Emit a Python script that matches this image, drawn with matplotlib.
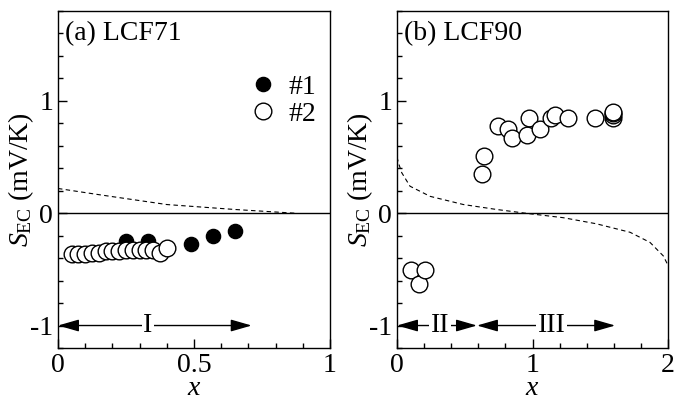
import matplotlib
matplotlib.use("Agg")
import matplotlib.pyplot as plt
from matplotlib import ticker

plt.rcParams['font.family'] = ['Liberation Serif', 'DejaVu Serif']
plt.rcParams['mathtext.fontset'] = 'custom'
plt.rcParams['mathtext.rm'] = 'Liberation Serif'
plt.rcParams['mathtext.it'] = 'Liberation Serif:italic'

# (a) LCF71
a_s1_x = [0.25, 0.33, 0.49, 0.57, 0.65]
a_s1_y = [-0.25, -0.25, -0.27, -0.20, -0.16]
a_s2_x = [0.05, 0.075, 0.10, 0.125, 0.15, 0.175, 0.20, 0.225, 0.25,
          0.275, 0.30, 0.325, 0.35, 0.375, 0.40]
a_s2_y = [-0.36, -0.36, -0.36, -0.35, -0.35, -0.34, -0.34, -0.34, -0.33,
          -0.33, -0.33, -0.33, -0.33, -0.35, -0.31]
a_dash_x = [0.0, 0.15, 0.4, 0.65, 0.87]
a_dash_y = [0.22, 0.165, 0.077, 0.033, 0.0]

# (b) LCF90
b_s2_x = [0.10, 0.16, 0.21, 0.63, 0.645, 0.748, 0.82, 0.846, 0.957, 0.977,
          1.055, 1.14, 1.166, 1.265, 1.46, 1.597, 1.597, 1.597, 1.597]
b_s2_y = [-0.51, -0.63, -0.51, 0.35, 0.51, 0.776, 0.747, 0.673, 0.696, 0.844,
          0.75, 0.844, 0.873, 0.844, 0.844, 0.844, 0.87, 0.89, 0.90]
b_dash_x = [0.0, 0.01, 0.035, 0.096, 0.244, 0.49, 0.735, 0.98, 1.226, 1.47,
            1.72, 1.867, 1.965, 1.99, 2.0]
b_dash_y = [0.50, 0.45, 0.36, 0.24, 0.15, 0.077, 0.033, -0.005, -0.04, -0.094,
            -0.17, -0.26, -0.38, -0.44, -0.47]

# region arrows: (start, end, label, label position)
a_regions = [(0.0, 0.712, "I", 0.33)]
b_regions = [(0.0, 0.59, "II", 0.317), (0.59, 1.61, "III", 1.14)]

FS = 20
MS = 12


def style_axes(ax, xmax, xminor):
    ax.set_xlim(0, xmax)
    ax.set_ylim(-1.2, 1.8)
    ax.axhline(0, color='black', lw=1)
    ax.yaxis.set_major_locator(ticker.FixedLocator([-1, 0, 1]))
    ax.yaxis.set_major_formatter(ticker.FixedFormatter(["-1", "0", "1"]))
    ax.yaxis.set_minor_locator(ticker.MultipleLocator(0.2))
    ax.xaxis.set_minor_locator(ticker.MultipleLocator(xminor))
    ax.tick_params(which='both', direction='in', labelsize=FS, top=False, right=False)
    ax.tick_params(which='major', length=6.5, width=1)
    ax.tick_params(which='minor', length=3.6, width=1)
    ax.set_xlabel("$x$", fontsize=FS, labelpad=-1)
    ax.set_ylabel(r"$S_{\mathrm{EC}}$ (mV/K)", fontsize=FS, labelpad=-4)
    for sp in ax.spines.values():
        sp.set_linewidth(1)


def draw_regions(ax, regions):
    for x0, x1, label, xl in regions:
        ax.annotate("", xy=(x0, -1), xytext=(x1, -1),
                    arrowprops=dict(arrowstyle='<|-|>,head_length=0.8,head_width=0.23',
                                    color='black', lw=1, shrinkA=0, shrinkB=0,
                                    mutation_scale=16))
        ax.text(xl, -1, label, fontsize=FS, ha='center', va='center',
                bbox=dict(facecolor='white', edgecolor='none', pad=1))


fig = plt.figure(figsize=(6.76, 4.01), dpi=100)
ax1 = fig.add_axes([0.0858, 0.1322, 0.4024, 0.8404])
ax2 = fig.add_axes([0.5873, 0.1322, 0.4009, 0.8404])

style_axes(ax1, 1, 0.1)
ax1.set_xticks([0, 0.5, 1])
ax1.set_xticklabels(["0", "0.5", "1"])
ax1.plot(a_dash_x, a_dash_y, ls=(0, (4, 3)), color='black', lw=0.8)
ax1.plot(a_s1_x, a_s1_y, 'o', color='black', ms=MS * 0.85, label="#1", zorder=3)
ax1.plot(a_s2_x, a_s2_y, 'o', mfc='white', mec='black', mew=1, ms=MS, label="#2", zorder=4)
draw_regions(ax1, a_regions)
ax1.text(0.025, 0.97, "(a) LCF71", transform=ax1.transAxes, fontsize=FS, va='top', ha='left')
ax1.legend(loc='upper right', bbox_to_anchor=(1.02, 0.87), frameon=False, fontsize=FS,
           handletextpad=0.3, labelspacing=0.05, handlelength=1.2, borderpad=0.2)

style_axes(ax2, 2, 0.2)
ax2.set_xticks([0, 1, 2])
ax2.set_xticklabels(["0", "1", "2"])
ax2.plot(b_dash_x, b_dash_y, ls=(0, (4, 3)), color='black', lw=0.8)
ax2.plot(b_s2_x, b_s2_y, 'o', mfc='white', mec='black', mew=1, ms=MS, zorder=4)
draw_regions(ax2, b_regions)
ax2.text(0.025, 0.97, "(b) LCF90", transform=ax2.transAxes, fontsize=FS, va='top', ha='left')

plt.savefig("out.png", dpi=100)
